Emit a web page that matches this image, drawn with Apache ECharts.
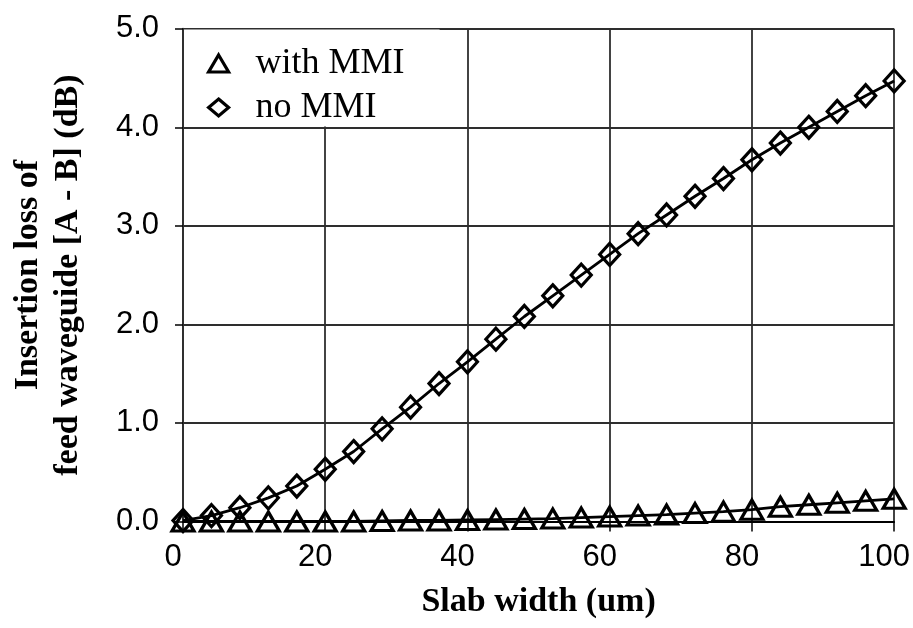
<!DOCTYPE html>
<html>
<head>
<meta charset="utf-8">
<script src="https://cdn.jsdelivr.net/npm/echarts@6/dist/echarts.min.js"></script>
<style>html,body{margin:0;padding:0;background:#fff}#c{width:913px;height:628px}</style>
</head>
<body>
<div id="c"></div>
<script>
var slabWidth = [0,4,8,12,16,20,24,28,32,36,40,44,48,52,56,60,64,68,72,76,80,84,88,92,96,100];
var withMMI = [0.00,0.00,0.00,0.00,0.00,0.00,0.00,0.005,0.01,0.01,0.015,0.02,0.025,0.03,0.04,0.05,0.06,0.07,0.085,0.10,0.12,0.15,0.17,0.19,0.21,0.23];
var noMMI = [0.01,0.06,0.14,0.24,0.36,0.53,0.71,0.94,1.16,1.40,1.62,1.85,2.08,2.29,2.50,2.71,2.92,3.11,3.30,3.48,3.67,3.84,4.00,4.16,4.32,4.47];
var seriesNames = ['with MMI','no MMI'];
var xTitle = 'Slab width (um)';
var yTitle = 'Insertion loss of\nfeed waveguide [A - B] (dB)';

function pairs(xs, ys){ return xs.map(function(x,i){ return [x, ys[i]]; }); }

var chart = echarts.init(document.getElementById('c'), null, {renderer:'canvas'});
var markerStyle = {color:'rgba(0,0,0,0)', borderColor:'#000', borderWidth:3.2};
chart.setOption({
  backgroundColor:'#fff',
  animation:false,
  grid:{left:182.5, right:17.3, top:28.7, bottom:106.5, containLabel:false},
  legend:{
    orient:'vertical', left:184, top:29.5,
    backgroundColor:'#fff',
    padding:[15,35,0,23],
    itemGap:6, itemWidth:20, itemHeight:17,
    textStyle:{fontFamily:'Liberation Serif', fontSize:36, color:'#000', lineHeight:38, padding:[0,0,0,22]},
    data:[
      {name:seriesNames[0], icon:'triangle', itemStyle:{color:'rgba(0,0,0,0)', borderColor:'#000', borderWidth:3.2}},
      {name:seriesNames[1], icon:'diamond', itemStyle:{color:'rgba(0,0,0,0)', borderColor:'#000', borderWidth:3.2}}
    ]
  },
  xAxis:{
    type:'value', min:0, max:100, interval:20,
    name:xTitle, nameLocation:'middle', nameGap:64,
    nameTextStyle:{fontFamily:'Liberation Serif', fontWeight:'bold', fontSize:34, color:'#000'},
    axisLine:{show:true, onZero:false, lineStyle:{color:'#000', width:2}},
    axisTick:{show:true, length:10, lineStyle:{color:'#000', width:1.5}},
    axisLabel:{fontFamily:'Liberation Sans', fontSize:31, color:'#000', margin:20, padding:[0,20,0,0]},
    splitLine:{show:true, lineStyle:{color:'#2e2e2e', width:1.8}}
  },
  yAxis:{
    type:'value', min:0, max:5, interval:1,
    name:yTitle, nameLocation:'middle', nameGap:95, nameRotate:90,
    nameTextStyle:{fontFamily:'Liberation Serif', fontWeight:'bold', fontSize:34, color:'#000', lineHeight:40},
    axisLine:{show:true, lineStyle:{color:'#2e2e2e', width:1.8}},
    axisTick:{show:true, length:8, lineStyle:{color:'#000', width:1.5}},
    axisLabel:{fontFamily:'Liberation Sans', fontSize:31, color:'#000', margin:24,
      formatter:function(v){ return v.toFixed(1); }},
    splitLine:{show:true, lineStyle:{color:'#2e2e2e', width:1.8}}
  },
  series:[
    {name:seriesNames[0], type:'line', data:pairs(slabWidth, withMMI),
     symbol:'triangle', symbolSize:[22,19], itemStyle:markerStyle,
     lineStyle:{color:'#000', width:2.8}, z:3},
    {name:seriesNames[1], type:'line', data:pairs(slabWidth, noMMI),
     symbol:'diamond', symbolSize:[20,22], itemStyle:markerStyle,
     lineStyle:{color:'#000', width:2.8}, z:4}
  ]
});
</script>
</body>
</html>
